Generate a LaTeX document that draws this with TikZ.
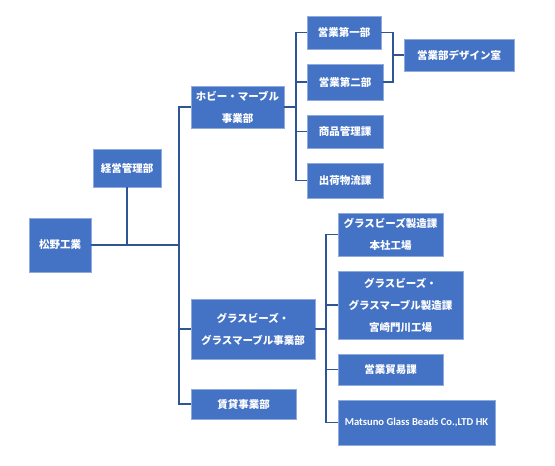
\documentclass[tikz,border=0pt]{standalone}
\usepackage{fontspec}
\newfontfamily\jp{Noto Sans CJK JP}
\newfontfamily\lat{Carlito}
\definecolor{boxfill}{HTML}{4472C4}
\definecolor{boxline}{HTML}{8FAADC}
\definecolor{conn}{HTML}{2F5597}
\begin{document}
\begin{tikzpicture}[x=1pt,y=1pt,
  box/.style={draw=boxline, line width=0.8pt, fill=boxfill, text=white, inner sep=0pt, align=center,
    font=\jp\bfseries\fontsize{10.5}{22}\selectfont},
  conn/.style={draw=conn, line width=1.2pt}]
\useasboundingbox (0,0) rectangle (555,-466);
\node[box, minimum width=62, minimum height=54] (matsuno) at (60,-245) {松野工業};
\node[box, minimum width=68, minimum height=38] (keiei) at (127,-168) {経営管理部};
\node[box, minimum width=93, minimum height=42] (hobby) at (237.5,-107) {ホビー・マーブル\\事業部};
\node[box, minimum width=74, minimum height=33] (eigyo1) at (344,-32.5) {営業第一部};
\node[box, minimum width=76, minimum height=36] (eigyo2) at (345,-82) {営業第二部};
\node[box, minimum width=76, minimum height=33] (shohin) at (345,-131.5) {商品管理課};
\node[box, minimum width=76, minimum height=35] (shukka) at (345,-180.5) {出荷物流課};
\node[box, minimum width=110, minimum height=32] (design) at (459,-55) {営業部デザイン室};
\node[box, minimum width=124, minimum height=60] (glass) at (253,-329) {グラスビーズ・\\グラスマーブル事業部};
\node[box, minimum width=105, minimum height=30] (chintai) at (243.5,-404) {賃貸事業部};
\node[box, minimum width=105, minimum height=43] (g1) at (390.5,-234.5) {グラスビーズ製造課\\本社工場};
\node[box, minimum width=125, minimum height=68] (g2) at (400.5,-305) {グラスビーズ・\\グラスマーブル製造課\\宮崎門川工場};
\node[box, minimum width=105, minimum height=31] (boeki) at (390.5,-369.5) {営業貿易課};
\node[box, minimum width=157, minimum height=45, font=\lat\bfseries\fontsize{10.6}{12}\selectfont] (hk) at (416.5,-422.5) {Matsuno Glass Beads Co.,LTD HK};
\coordinate (trunk) at (179,0);
\coordinate (bus1) at (296,0);
\coordinate (bus2) at (326,0);
\coordinate (br) at (393,-55);
% main trunk
\draw[conn] (hobby.west) -| (trunk |- chintai.west) -- (chintai.west);
\draw[conn] (glass.west) -- (glass.west -| trunk);
\draw[conn] (matsuno.east) -- (matsuno.east -| trunk);
\draw[conn] (keiei.south) -- (keiei.south |- matsuno.east);
% hobby branch
\draw[conn] (hobby.east) -- (hobby.east -| bus1);
\draw[conn] (eigyo1.west) -| (bus1 |- shukka.west) -- (shukka.west);
\draw[conn] (eigyo2.west) -- (eigyo2.west -| bus1);
\draw[conn] (shohin.west) -- (shohin.west -| bus1);
% design bracket
\draw[conn] (eigyo1.east) -| (br) |- (eigyo2.east);
\draw[conn] (br) -- (design.west);
% glass branch
\draw[conn] (glass.east) -- (glass.east -| bus2);
\draw[conn] (g1.west) -| (bus2 |- hk.west) -- (hk.west);
\draw[conn] (g2.west) -- (g2.west -| bus2);
\draw[conn] (boeki.west) -- (boeki.west -| bus2);
\end{tikzpicture}
\end{document}
